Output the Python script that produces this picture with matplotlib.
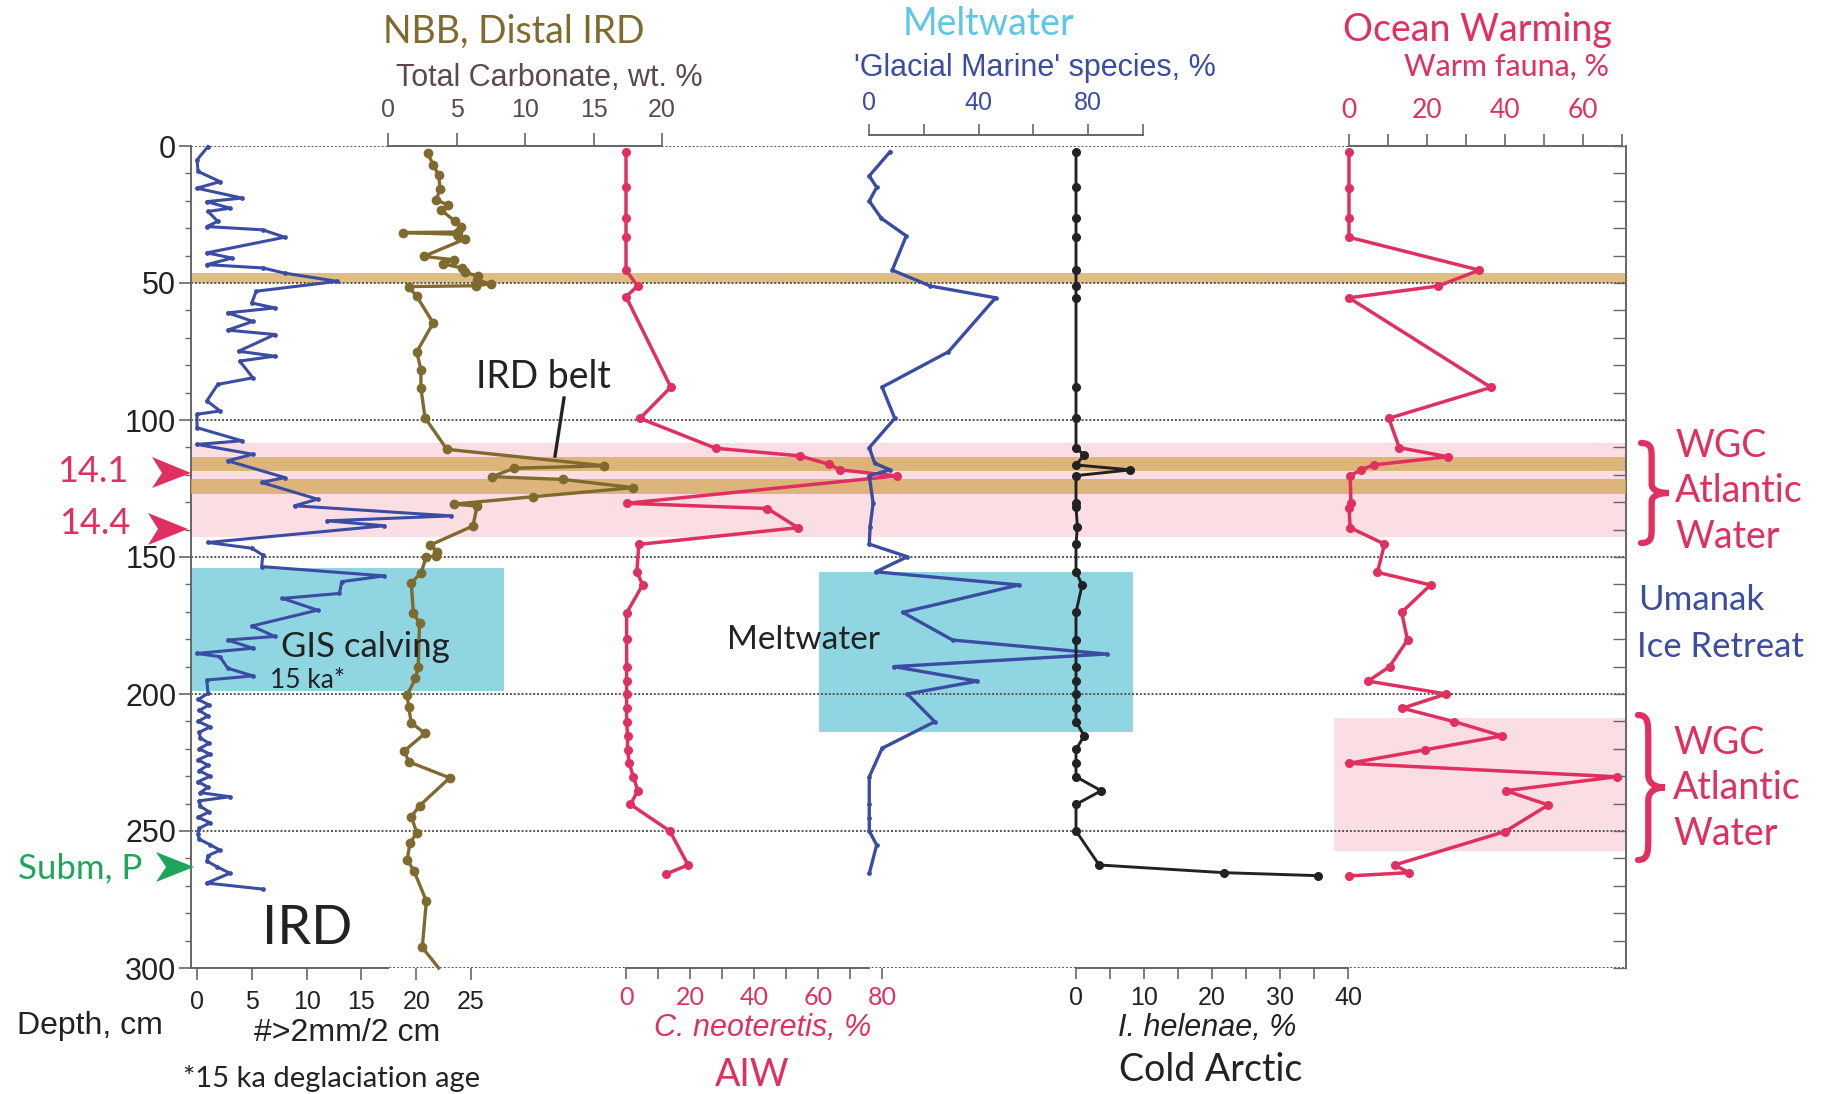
import matplotlib
matplotlib.use("Agg")
import matplotlib.pyplot as plt
from matplotlib.patches import Polygon, PathPatch
from matplotlib.path import Path
from matplotlib.lines import Line2D
from matplotlib.ticker import MultipleLocator

plt.rcParams['font.family'] = ['Liberation Sans', 'DejaVu Sans']
LATO = ['Lato', 'DejaVu Sans']

# --- data (depth in cm, value on each track's own scale) ---
ird_depth = [0.2, 5.1, 9.3, 13, 15.4, 19, 20.3, 22.7, 23.9, 27.5,
             29.4, 30.6, 33.3, 39, 40.9, 43.3, 44.5, 46.4, 49.4, 53,
             57.3, 59.1, 60.9, 64, 67.2, 68.8, 74.9, 76.7, 78.5, 84.6,
             87, 93, 96.7, 97.9, 102.8, 107.6, 108.9, 112.5, 114.9, 121,
             122.8, 128.9, 131.3, 135, 136.8, 138.6, 144.7, 146.8, 149.3, 153.5,
             156.9, 159, 163.3, 165.1, 169.4, 175.2, 179, 180.3, 183.3, 185.2,
             186.4, 190.6, 193.4, 194.9, 199.8, 202, 204, 206, 208, 210,
             212, 214, 216, 218, 220, 222, 224, 226, 228, 230,
             232, 234, 236, 237.5, 239, 241, 243, 245, 247, 249,
             251, 253, 255, 257, 259, 261, 263, 265.4, 269, 271.2]
ird_val = [1.0, 0.0, 0.1, 2.1, 0.0, 4.1, 0.9, 3.0, 1.0, 1.9,
           0.9, 6.0, 8.0, 0.9, 3.2, 0.9, 6.0, 8.0, 12.8, 5.4,
           5.0, 7.1, 2.8, 5.1, 2.8, 7.1, 3.8, 7.1, 3.9, 5.1,
           1.9, 0.9, 2.1, 0.0, 0.0, 4.1, 0.0, 5.1, 2.8, 8.0,
           5.9, 11.0, 8.9, 23.2, 11.9, 17.1, 1.0, 5.0, 6.0, 5.9,
           17.1, 13.2, 13.0, 7.8, 11.0, 5.0, 7.1, 2.8, 5.1, 0.0,
           2.1, 2.8, 5.1, 0.9, 1.0, 0.1, 1.1, 0.2, 1.0, 0.1,
           1.2, 0.2, 0.3, 1.1, 0.2, 1.2, 0.1, 1.0, 0.2, 1.2,
           0.1, 1.0, 0.3, 3.0, 0.2, 0.3, 1.1, 0.1, 1.2, 0.2,
           0.1, 0.2, 1.2, 2.1, 1.0, 0.9, 1.8, 3.0, 0.9, 6.0]

carb_depth = [2.7, 6.9, 10.6, 15.8, 19.7, 21.5, 23.5, 27.5, 29.6, 31.4,
              31.6, 32.2, 33.0, 34.0, 40.3, 41.5, 43.0, 44.5, 46.0, 47.6,
              49.0, 50.3, 51.0, 51.3, 54.9, 64.6, 75.1, 81.6, 88.2, 99.2,
              110.7, 116.7, 117.6, 120.7, 121.7, 124.7, 128.0, 130.7, 131.4, 138.7,
              145.6, 148.0, 149.6, 150.0, 155.8, 159.5, 170.3, 174.2, 190.3, 194.3,
              200.4, 204.6, 210.5, 214.4, 220.7, 224.7, 230.6, 240.8, 244.8, 250.6,
              254.5, 260.6, 264.6, 275.6, 292.5, 300.0]
carb_val = [2.9, 3.3, 3.7, 3.8, 3.5, 4.4, 3.9, 4.9, 5.3, 5.1,
            1.1, 5.0, 5.1, 5.6, 2.6, 4.8, 4.0, 5.4, 5.6, 6.6,
            6.5, 7.5, 6.4, 1.5, 2.1, 3.3, 2.1, 2.4, 2.4, 2.7,
            4.3, 15.8, 9.2, 7.6, 12.8, 17.9, 10.6, 4.8, 6.5, 6.2,
            3.1, 3.6, 3.5, 2.8, 2.4, 1.7, 1.85, 2.3, 2.2, 2.0,
            1.4, 1.5, 1.7, 2.7, 1.2, 1.5, 4.5, 2.3, 1.7, 2.1,
            1.6, 1.4, 1.9, 2.8, 2.5, 3.7]

cneo_depth = [2.1, 15.1, 26.2, 33.1, 45.3, 51.1, 55.0, 88.0, 99.4, 110.3,
              113.1, 116.2, 118.2, 120.4, 130.4, 132.3, 139.3, 145.4, 155.4, 160.2,
              170.4, 180.0, 190.2, 195.4, 200.0, 205.2, 210.1, 215.3, 220.4, 225.3,
              230.2, 235.3, 240.3, 250.0, 262.4, 265.7]
cneo_val = [0, 0, 0, 0, 0, 3.6, 0, 14, 4.4, 28,
            54.3, 63.5, 66.9, 84.7, 0.2, 44.2, 53.7, 4.0, 3.4, 5.2,
            0.2, 0.2, 0.2, 0.2, 0.2, 0.2, 0.2, 0.5, 0.5, 1.0,
            2.3, 3.7, 1.4, 13.7, 19.4, 12.5]

gm_depth = [2.1, 10.9, 15.1, 20.1, 26.4, 32.8, 45.3, 51.1, 55.4, 75.1,
            88.0, 99.4, 110.1, 115.8, 118.2, 120.3, 130.4, 138.9, 145.3, 149.9,
            155.4, 160.2, 170.2, 180.3, 185.4, 190.0, 195.3, 200.0, 210.1, 219.8,
            230.2, 240.3, 245.1, 250.0, 255.1, 265.5]
gm_val = [7.7, 0.1, 2.8, 0.1, 4.5, 13.6, 8.5, 22.4, 46.2, 29.0,
          4.8, 9.4, 0.1, 2.1, 7.7, 0.1, 1.5, 0.4, 0.1, 14.0,
          2.5, 54.7, 12.3, 30.5, 86.7, 9.1, 39.5, 14.0, 24.0, 4.8,
          0.1, 0.1, 0.1, 0.1, 2.8, 0.1]

ih_depth = [2.1, 15.1, 26.2, 33.1, 45.3, 51.1, 55.4, 88.1, 99.4, 110.1,
            112.8, 116.4, 118.2, 120.3, 130.4, 131.6, 138.9, 145.3, 155.4, 160.2,
            170.2, 180.3, 190.0, 195.3, 200.0, 205.2, 210.1, 215.3, 220.2, 225.3,
            230.2, 235.3, 240.3, 250.0, 262.4, 265.2, 266.3]
ih_val = [0, 0, 0, 0, 0, 0, 0, 0, 0, 0,
          1.2, 0, 8.0, 0, 0, 0, 0.2, 0, 0, 0.9,
          0, 0, 0, 0, 0, 0, 0, 1.2, 0, 0,
          0, 3.7, 0, 0, 3.4, 21.7, 35.6]

wf_depth = [2.3, 15.2, 26.4, 33.3, 45.3, 51.1, 55.4, 88.1, 99.4, 110.1,
            113.4, 116.4, 118.2, 120.3, 130.4, 132.2, 139.3, 145.3, 155.6, 160.2,
            170.2, 180.3, 190.0, 195.3, 200.0, 205.2, 210.1, 215.3, 220.4, 225.3,
            230.2, 235.3, 240.5, 250.2, 262.4, 265.2, 266.4]
wf_val = [0, 0, 0, 0, 33.4, 22.9, 0, 36.4, 10.2, 12.9,
          25.3, 6.3, 3.1, 0.3, 0.5, 0, 0.3, 9.1, 7.3, 20.9,
          13.5, 15.0, 10.4, 4.9, 24.9, 13.7, 27.0, 39.2, 19.4, 0,
          68.6, 40.2, 51.1, 40.0, 11.7, 15.3, 0]

# shaded intervals (depth top, depth bottom)
tan_bands = [(46.2, 50.0), (113.5, 118.6), (121.5, 127.0)]
pink_band = (108.4, 142.7)
pink_low = (208.8, 257.3)
gis_box = (154.0, 199.0)
melt_box = (155.5, 214.0)

BLUE = '#3b4ca3'
OLIVE = '#7f6a30'
RED = '#e0305f'
BLACK = '#222222'
CYAN = '#8fd5e2'
PINK = '#fbdde4'
TAN = '#d3a858'
GRAY = '#666666'

W, H = 1823, 1094
TOP, BOT = 146, 968
X0, X1 = 191, 1626

fig = plt.figure(figsize=(W / 100, H / 100), dpi=100)


def fx(x):
    return x / W


def fy(y):
    return 1 - y / H


def frac(x):
    return (x - X0) / (X1 - X0)


# main depth frame
ax = fig.add_axes([fx(X0), fy(BOT), (X1 - X0) / W, (BOT - TOP) / H])
ax.set_xlim(0, 1)
ax.set_ylim(300, 0)
ax.patch.set_visible(False)
ax.set_xticks([])
for s in ['top', 'bottom']:
    ax.spines[s].set_visible(False)
ax.spines['left'].set_color(GRAY)
ax.spines['right'].set_color(GRAY)
ax.spines['left'].set_linewidth(1.4)
ax.spines['right'].set_linewidth(1.4)
ax.yaxis.set_major_locator(MultipleLocator(50))
ax.yaxis.set_minor_locator(MultipleLocator(10))
ax.tick_params(axis='y', which='major', direction='out', length=8.6, width=1.2,
               color=GRAY, labelsize=22, labelcolor=BLACK, pad=2)
ax.tick_params(axis='y', which='minor', direction='out', length=4.3, width=1.0, color=GRAY)

axr = ax.twinx()
axr.set_ylim(300, 0)
axr.patch.set_visible(False)
for s in ['top', 'bottom', 'left', 'right']:
    axr.spines[s].set_visible(False)
axr.yaxis.set_major_locator(MultipleLocator(10))
axr.tick_params(axis='y', direction='in', length=9.4, width=1.0, color=GRAY, labelright=False)

for d in range(0, 301, 50):
    ax.axhline(d, color='#555555', lw=1.4, ls=(0, (1, 1)), zorder=2)

ax.axhspan(*pink_band, 0, 1, color=PINK, lw=0, zorder=0)
ax.axhspan(*pink_low, frac(1334), 1, color=PINK, lw=0, zorder=0)
ax.axhspan(*gis_box, 0, frac(504), color=CYAN, lw=0, zorder=0)
ax.axhspan(*melt_box, frac(819), frac(1133), color=CYAN, lw=0, zorder=0)
for i, (a, b) in enumerate(tan_bands):
    ax.axhspan(a, b, 0, 1, color=TAN, alpha=0.75, lw=0, zorder=5 if i == 2 else 0.5)


def track(x0, x1, lo, hi):
    a = fig.add_axes([fx(x0), fy(BOT), (x1 - x0) / W, (BOT - TOP) / H])
    a.set_xlim(lo, hi)
    a.set_ylim(300, 0)
    a.patch.set_visible(False)
    for s in a.spines.values():
        s.set_visible(False)
    a.set_yticks([])
    a.set_xticks([])
    return a


def axis_ticks(a, side, major, minor, color, size, family, pad, length=9.0, bounds=None):
    a.xaxis.set_ticks_position(side)
    a.xaxis.set_label_position(side)
    a.spines[side].set_visible(True)
    a.spines[side].set_color(GRAY)
    a.spines[side].set_linewidth(1.4)
    if bounds:
        a.spines[side].set_bounds(*bounds)
    a.set_xticks(major)
    a.set_xticks(minor, minor=True)
    a.tick_params(axis='x', which='both', direction='out', length=length, width=1.2,
                  color=GRAY, labelsize=size, labelcolor=color, pad=pad)
    for lbl in a.get_xticklabels():
        lbl.set_fontfamily(family)


# IRD counts
a_ird = track(197, 471, 0, 25)
a_ird.plot(ird_val, ird_depth, color=BLUE, lw=2.2, marker='o', ms=2.4, clip_on=False, zorder=3)
axis_ticks(a_ird, 'bottom', [0, 5, 10, 15, 20, 25], [], BLACK, 18,
           ['Liberation Sans'], 7, length=8.6, bounds=(-0.55, 17.4))

# total carbonate
a_carb = track(388, 662, 0, 20)
a_carb.plot(carb_val, carb_depth, color=OLIVE, lw=2.4, marker='o', ms=6,
            markevery=slice(0, -1), clip_on=False, zorder=3)
axis_ticks(a_carb, 'top', [0, 5, 10, 15, 20], [], '#5b4a47', 18,
           ['Liberation Sans'], 8, length=9.4)

# C. neoteretis
a_cneo = track(626, 882, 0, 80)
a_cneo.plot(cneo_val, cneo_depth, color=RED, lw=2.5, marker='o', ms=5.5, clip_on=False, zorder=3)
axis_ticks(a_cneo, 'bottom', [0, 20, 40, 60, 80], [10, 30, 50, 70], RED, 18,
           LATO, 5, length=8.0, bounds=(0, 76))

# glacial marine species
a_gm = track(869, 1143, 0, 100)
a_gm.plot(gm_val, gm_depth, color=BLUE, lw=2.4, marker='o', ms=2.4, clip_on=False, zorder=3)
axis_ticks(a_gm, 'top', [0, 40, 80], [20, 60, 100], BLUE, 18,
           ['Liberation Sans'], 6, length=8.0)
a_gm.spines['top'].set_position(('outward', 8))

# I. helenae
a_ih = track(1076, 1348, 0, 40)
a_ih.plot(ih_val, ih_depth, color=BLACK, lw=2.1, marker='o', ms=5.5, clip_on=False, zorder=3)
axis_ticks(a_ih, 'bottom', [0, 10, 20, 30, 40], [5, 15, 25, 35], BLACK, 18,
           ['Liberation Sans'], 5, length=8.0)

# warm fauna
a_wf = track(1349, 1622, 0, 70)
a_wf.plot(wf_val, wf_depth, color=RED, lw=2.5, marker='o', ms=5.5, clip_on=False, zorder=3)
axis_ticks(a_wf, 'top', [0, 20, 40, 60], [10, 30, 50, 70], RED, 19,
           LATO, 8, length=8.6)


def label(x, y, s, color=BLACK, size=22, family=LATO, **kw):
    fig.text(fx(x), fy(y), s, color=color, fontsize=size, family=family,
             ha=kw.pop('ha', 'center'), va=kw.pop('va', 'center'), **kw)


HELV = ['Liberation Sans', 'DejaVu Sans']

# headers
label(514, 32, 'NBB, Distal IRD', OLIVE, 27)
label(549, 78, 'Total Carbonate, wt. %', '#5b4a47', 22, HELV)
label(989, 24, 'Meltwater', '#5ec7e6', 27)
label(1035, 68, "'Glacial Marine' species, %", BLUE, 22, HELV)
label(1477, 30, 'Ocean Warming', RED, 27)
label(1609, 67, 'Warm fauna, %', RED, 22, ha='right')

# footers
label(90, 1026, 'Depth, cm', BLACK, 23, HELV)
label(347, 1033, '#>2mm/2 cm', BLACK, 23, HELV)
label(763, 1028, 'C. neoteretis, %', RED, 22, HELV, style='italic')
label(752, 1075, 'AIW', RED, 27)
label(1207, 1028, 'I. helenae, %', BLACK, 22, HELV, style='italic')
label(1211, 1070, 'Cold Arctic', BLACK, 27)
label(332, 1078, '*15 ka deglaciation age', BLACK, 21)

# in-panel annotations
label(543, 377, 'IRD belt', BLACK, 27)
fig.add_artist(Line2D([fx(564), fx(555)], [fy(398), fy(456)], color=BLACK, lw=2.4))
label(365, 647, 'GIS calving', BLACK, 25)
label(307, 681, '15 ka*', BLACK, 19)
label(803, 640, 'Meltwater', BLACK, 24)
label(307, 929, 'IRD', BLACK, 39)

label(93, 472, '14.1', RED, 26)
label(95, 523, '14.4', RED, 26)
label(80, 868, 'Subm, P', '#1fa55a', 25)

for (bx, yt, yb, tip, col) in [(152, 457, 488, (191, 473), RED),
                               (148, 513, 545, (188, 529), RED),
                               (156, 852, 882, (194, 867), '#1fa55a')]:
    tri = Polygon([(fx(bx), fy(yt)), (fx(tip[0]), fy(tip[1])), (fx(bx), fy(yb)),
                   (fx(bx + 10), fy(tip[1]))], closed=True, transform=fig.transFigure,
                  color=col, lw=0)
    fig.add_artist(tri)


def brace(x0, yt, yb, w, color):
    h = yb - yt
    ym = (yt + yb) / 2
    xm = x0 + 0.38 * w
    pts = [(x0, yt),
           (xm, yt), (xm, yt + 0.06 * h), (xm, yt + 0.15 * h),
           (xm, ym - 0.09 * h),
           (xm, ym - 0.02 * h), (x0 + 0.7 * w, ym), (x0 + w, ym),
           (x0 + 0.7 * w, ym), (xm, ym + 0.02 * h), (xm, ym + 0.09 * h),
           (xm, yb - 0.15 * h),
           (xm, yb - 0.06 * h), (xm, yb), (x0, yb)]
    codes = [Path.MOVETO] + [Path.CURVE4] * 3 + [Path.LINETO] + [Path.CURVE4] * 6 + \
            [Path.LINETO] + [Path.CURVE4] * 3
    path = Path([(fx(x), fy(y)) for x, y in pts], codes)
    fig.add_artist(PathPatch(path, fill=False, edgecolor=color, lw=4.5,
                             capstyle='round', transform=fig.transFigure))


brace(1641, 443, 543, 28, RED)
brace(1638, 715, 860, 27, RED)
for y, s in [(446, 'WGC'), (491, 'Atlantic'), (537, 'Water')]:
    label(1675, y, s, RED, 27, ha='left')
for y, s in [(743, 'WGC'), (788, 'Atlantic'), (834, 'Water')]:
    label(1673, y, s, RED, 27, ha='left')
label(1638, 600, 'Umanak', BLUE, 25, ha='left')
label(1637, 647, 'Ice Retreat', BLUE, 25, ha='left')

fig.savefig('out.png', dpi=100)
